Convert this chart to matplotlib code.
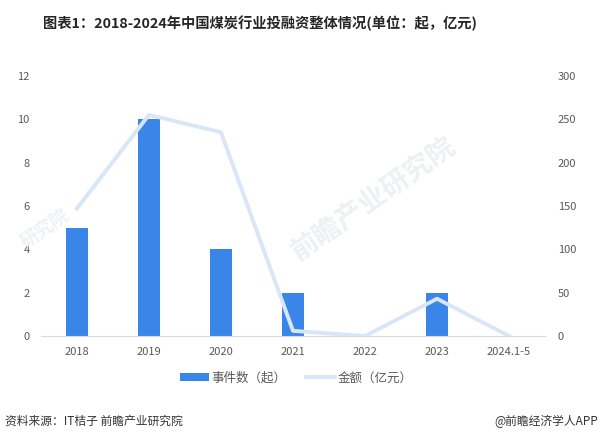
import matplotlib.pyplot as plt

plt.rcParams['font.family'] = ['Noto Sans CJK SC', 'DejaVu Sans']

years = ['2018', '2019', '2020', '2021', '2022', '2023', '2024.1-5']
events = [5, 10, 4, 2, 0, 2, 0]
amounts = [147, 255, 235, 6, 0, 43, 0]

bar_color = '#3a86e8'
line_color = '#d9e6f8'
tick_color = '#595959'

fig = plt.figure(figsize=(6.01, 4.41), dpi=100)
ax = fig.add_axes([0.068, 0.238, 0.839, 0.590])
ax2 = ax.twinx()

x = list(range(len(years)))
bars = ax.bar(x, events, width=0.31, color=bar_color, zorder=2)
line, = ax2.plot(x, amounts, color=line_color, linewidth=2.8, zorder=3)

ax.set_xlim(-0.5, len(years) - 0.5)
ax.set_ylim(0, 12)
ax.set_yticks(range(0, 13, 2))
ax2.set_ylim(0, 300)
ax2.set_yticks(range(0, 301, 50))
ax.set_xticks(x)
ax.set_xticklabels(years)

for a in (ax, ax2):
    for s in a.spines.values():
        s.set_visible(False)
    a.tick_params(length=0, colors=tick_color, labelsize=8)
ax.spines['bottom'].set_visible(True)
ax.spines['bottom'].set_color('#d9d9d9')
ax.tick_params(axis='y', pad=8)
ax2.tick_params(axis='y', pad=9)
ax.tick_params(axis='x', pad=8)

# line drawn over the bars
ax.set_zorder(0)
ax2.set_zorder(1)

# faint watermarks
fig.text(0.62, 0.55, '前瞻产业研究院', fontsize=20, color='#eef0f3', rotation=35,
         ha='center', va='center', fontweight='bold', zorder=0)
fig.text(0.075, 0.48, '研究院', fontsize=13, color='#f0f1f3', rotation=35,
         ha='center', va='center', fontweight='bold', zorder=0)

fig.text(0.433, 0.948, '图表1：2018-2024年中国煤炭行业投融资整体情况(单位：起，亿元)',
         ha='center', va='center', fontsize=10.3, fontweight='bold', color='#262626')

fig.legend([bars, line], ['事件数（起）', '金额（亿元）'], loc='center',
           bbox_to_anchor=(0.493, 0.143), ncol=2, frameon=False, fontsize=9,
           handlelength=2.3, handletextpad=0.2, columnspacing=1.6,
           labelcolor=tick_color)

fig.text(0.008, 0.045, '资料来源：IT桔子 前瞻产业研究院', fontsize=8.5, color='#333333',
         va='center')
fig.text(0.995, 0.045, '@前瞻经济学人APP', fontsize=8.5, color='#333333',
         va='center', ha='right')

fig.savefig('out.png', dpi=100)
